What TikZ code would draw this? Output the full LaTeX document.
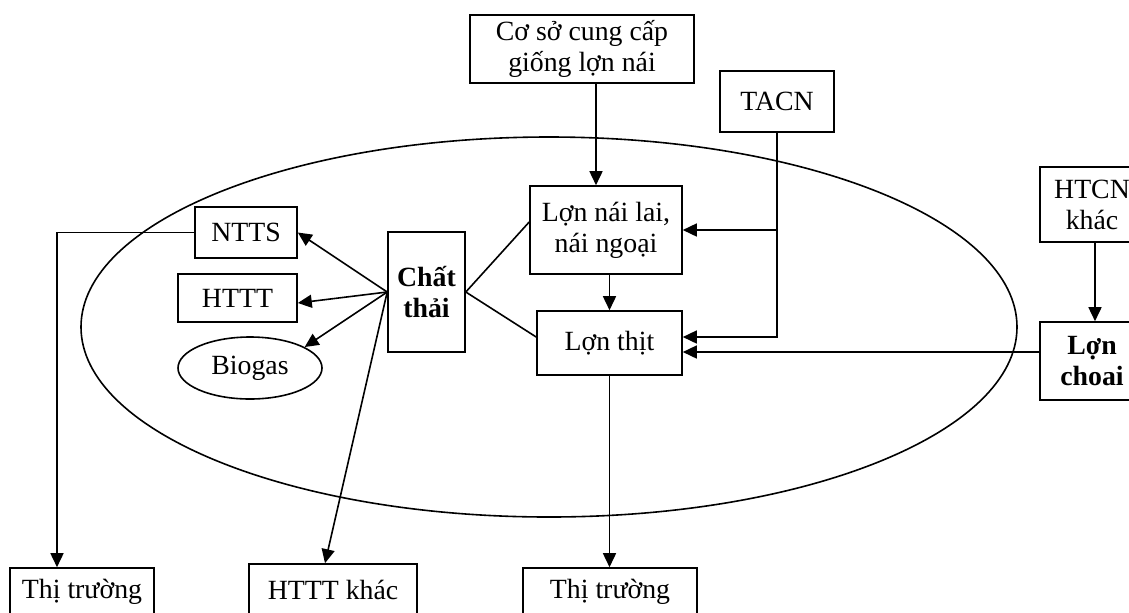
\documentclass[tikz,border=0pt]{standalone}
\usepackage{fontspec}
\setmainfont{Liberation Serif}
\usetikzlibrary{arrows.meta,shapes.geometric}

\begin{document}
\begin{tikzpicture}[x=0.5pt,y=-0.5pt,
		font=\fontsize{13.9}{15.5}\selectfont,
		hop/.style={draw,line width=0.8pt,inner sep=0pt,align=center},
		dam/.style={font=\fontsize{13.9}{15.5}\selectfont\bfseries},
		muiten/.style={-{Triangle[length=7pt,width=6.5pt]},line width=0.8pt},
		noi/.style={line width=0.8pt}]
		\clip (0,0) rectangle (1129,612);

		% vung trang trai
		\draw[noi] (549,327) ellipse [x radius=234pt,y radius=95pt];

		% dau vao
		\node[hop,minimum width=112pt,minimum height=34pt] (coso) at (582,49) {Cơ sở cung cấp\\giống lợn nái};
		\node[hop,minimum width=57pt,minimum height=30.5pt] (tacn) at (777,101.5) {TACN};
		\node[hop,minimum width=52pt,minimum height=37.5pt] (htcn) at (1092,204.5) {HTCN\\khác};
		\node[hop,dam,minimum width=52pt,minimum height=39pt] (choai) at (1092,361) {Lợn\\choai};

		% ben trong
		\node[hop,minimum width=76pt,minimum height=44pt] (nai) at (606,230) {Lợn nái lai,\\nái ngoại};
		\node[hop,minimum width=72.5pt,minimum height=32pt] (thit) at (609.5,343) {Lợn thịt};
		\node[hop,dam,minimum width=38.5pt,minimum height=60pt] (chat) at (426.5,292) {Chất\\thải};
		\node[hop,minimum width=51pt,minimum height=25.5pt] (ntts) at (246,232.5) {NTTS};
		\node[hop,minimum width=59.5pt,minimum height=24pt] (httt) at (237.5,298) {HTTT};
		\node[hop,ellipse,minimum width=72pt,minimum height=31pt] (biogas) at (250,368) {Biogas};

		% dau ra
		\node[hop,minimum width=72pt,minimum height=24pt] (tt1) at (82,592) {Thị trường};
		\node[hop,minimum width=84pt,minimum height=26pt] (khac) at (333,590) {HTTT khác};
		\node[hop,minimum width=87pt,minimum height=24pt] (tt2) at (610,592) {Thị trường};

		\draw[muiten] ([xshift=7pt]coso.south) -- ([xshift=-5pt]nai.north);
		\draw[muiten] (tacn.south) |- ([yshift=3pt]thit.east);
		\draw[muiten] (tacn.south |- nai.east) -- (nai.east);
		\draw[muiten] (nai.south -| thit.north) -- (thit.north);
		\draw[muiten] ([xshift=1.5pt]htcn.south) -- ([xshift=1.5pt]choai.north);
		\draw[muiten] ([yshift=4.5pt]choai.west) -- ([yshift=-4.5pt]thit.east);

		\draw[noi] (chat.east) -- ([yshift=4pt]nai.west);
		\draw[noi] (chat.east) -- ([yshift=3pt]thit.west);

		\draw[muiten] (chat.west) -- (ntts.east);
		\draw[muiten] (chat.west) -- ([yshift=-2.5pt]httt.east);
		\draw[muiten] (chat.west) -- (biogas.21);
		\draw[muiten] (chat.west) -- ([xshift=-4pt]khac.north);

		\draw[muiten] (ntts.west) -| ([xshift=-12.5pt]tt1.north);
		\draw[muiten] (thit.south) -- (thit.south |- tt2.north);
	\end{tikzpicture}
\end{document}
